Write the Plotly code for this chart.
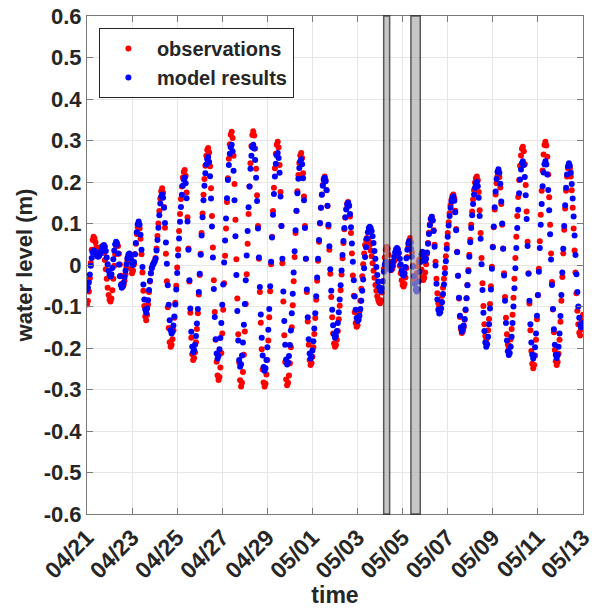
import pandas as pd
import plotly.graph_objects as go

# ---- data (hourly water level, m) ----
start_time = "2019-04-21 00:00"
end_time = "2019-05-13 00:00"

observations = [
    -0.095, -0.087, -0.064, -0.032, 0.005, 0.037, 0.060, 0.068, 0.064, 0.055,
    0.043, 0.034, 0.030, 0.032, 0.038, 0.043, 0.045, 0.041, 0.029, 0.012,
    -0.010, -0.033, -0.055, -0.072, -0.084, -0.088, -0.081, -0.061, -0.033, -0.002,
    0.026, 0.046, 0.053, 0.046, 0.027, 0.001, -0.026, -0.045, -0.052, -0.048,
    -0.038, -0.022, -0.006, 0.010, 0.020, 0.024, 0.013, -0.009, -0.020, -0.014,
    0.002, 0.026, 0.051, 0.075, 0.091, 0.097, 0.088, 0.063, 0.026, -0.018,
    -0.062, -0.099, -0.124, -0.133, -0.120, -0.095, -0.065, -0.040, -0.020, -0.006,
    0.000, 0.005, 0.010, 0.017, 0.040, 0.070, 0.100, 0.130, 0.160, 0.178,
    0.185, 0.174, 0.140, 0.090, 0.027, -0.039, -0.102, -0.152, -0.186, -0.197,
    -0.192, -0.179, -0.157, -0.127, -0.091, -0.050, -0.006, 0.038, 0.082, 0.123,
    0.159, 0.189, 0.211, 0.224, 0.229, 0.215, 0.175, 0.115, 0.040, -0.040,
    -0.115, -0.175, -0.215, -0.229, -0.224, -0.210, -0.186, -0.154, -0.116, -0.071,
    -0.024, 0.027, 0.077, 0.124, 0.169, 0.207, 0.239, 0.263, 0.277, 0.282,
    0.271, 0.238, 0.185, 0.118, 0.042, -0.037, -0.113, -0.180, -0.233, -0.266,
    -0.277, -0.270, -0.247, -0.212, -0.165, -0.108, -0.044, 0.022, 0.088, 0.152,
    0.209, 0.256, 0.291, 0.314, 0.321, 0.306, 0.263, 0.195, 0.109, 0.014,
    -0.081, -0.167, -0.235, -0.278, -0.293, -0.284, -0.258, -0.216, -0.160, -0.094,
    -0.022, 0.051, 0.123, 0.189, 0.245, 0.287, 0.313, 0.322, 0.312, 0.281,
    0.232, 0.168, 0.094, 0.015, -0.065, -0.139, -0.203, -0.252, -0.283, -0.293,
    -0.286, -0.264, -0.229, -0.182, -0.126, -0.063, 0.002, 0.068, 0.130, 0.186,
    0.233, 0.268, 0.290, 0.297, 0.283, 0.241, 0.176, 0.094, 0.004, -0.088,
    -0.169, -0.234, -0.276, -0.290, -0.284, -0.266, -0.237, -0.198, -0.150, -0.097,
    -0.039, 0.019, 0.077, 0.130, 0.178, 0.217, 0.246, 0.264, 0.270, 0.258,
    0.221, 0.165, 0.094, 0.015, -0.065, -0.136, -0.192, -0.229, -0.241, -0.236,
    -0.221, -0.198, -0.166, -0.128, -0.084, -0.038, 0.010, 0.056, 0.100, 0.138,
    0.170, 0.193, 0.208, 0.213, 0.205, 0.181, 0.142, 0.093, 0.037, -0.021,
    -0.077, -0.126, -0.165, -0.189, -0.197, -0.193, -0.180, -0.159, -0.131, -0.098,
    -0.061, -0.023, 0.016, 0.053, 0.086, 0.114, 0.135, 0.148, 0.152, 0.143,
    0.117, 0.077, 0.028, -0.025, -0.074, -0.114, -0.140, -0.149, -0.145, -0.132,
    -0.112, -0.086, -0.057, -0.027, 0.002, 0.028, 0.048, 0.061, 0.065, 0.063,
    0.057, 0.048, 0.035, 0.021, 0.004, -0.014, -0.031, -0.048, -0.062, -0.075,
    -0.084, -0.090, -0.092, -0.085, -0.066, -0.039, -0.009, 0.018, 0.037, 0.044,
    0.039, 0.025, 0.007, -0.007, -0.012, -0.009, -0.002, 0.009, 0.020, 0.027,
    0.030, 0.026, 0.015, -0.002, -0.020, -0.037, -0.048, -0.052, -0.046, -0.030,
    -0.007, 0.019, 0.043, 0.059, 0.065, 0.055, 0.030, -0.001, -0.026, -0.036,
    -0.031, -0.019, -0.003, 0.009, 0.014, 0.007, -0.011, -0.029, -0.036, -0.031,
    -0.018, 0.002, 0.027, 0.053, 0.078, 0.098, 0.111, 0.116, 0.108, 0.084,
    0.049, 0.008, -0.033, -0.068, -0.092, -0.100, -0.097, -0.088, -0.074, -0.055,
    -0.033, -0.007, 0.021, 0.049, 0.077, 0.103, 0.125, 0.144, 0.158, 0.167,
    0.170, 0.160, 0.131, 0.087, 0.032, -0.026, -0.081, -0.125, -0.154, -0.164,
    -0.160, -0.150, -0.132, -0.109, -0.080, -0.048, -0.012, 0.025, 0.061, 0.097,
    0.129, 0.158, 0.181, 0.199, 0.209, 0.213, 0.204, 0.176, 0.132, 0.077,
    0.017, -0.044, -0.099, -0.143, -0.171, -0.180, -0.174, -0.157, -0.130, -0.094,
    -0.051, -0.004, 0.044, 0.091, 0.134, 0.170, 0.197, 0.214, 0.220, 0.212,
    0.187, 0.147, 0.097, 0.040, -0.020, -0.077, -0.127, -0.167, -0.192, -0.200,
    -0.195, -0.179, -0.154, -0.120, -0.079, -0.033, 0.017, 0.068, 0.118, 0.164,
    0.205, 0.239, 0.264, 0.280, 0.285, 0.274, 0.243, 0.193, 0.129, 0.056,
    -0.020, -0.093, -0.157, -0.207, -0.238, -0.249, -0.241, -0.218, -0.180, -0.131,
    -0.073, -0.009, 0.057, 0.121, 0.179, 0.228, 0.266, 0.289, 0.297, 0.288,
    0.261, 0.218, 0.163, 0.097, 0.028, -0.041, -0.107, -0.162, -0.205, -0.232,
    -0.241, -0.234, -0.214, -0.180, -0.137, -0.086, -0.029, 0.028, 0.085, 0.136,
    0.179, 0.213, 0.233, 0.240, 0.233, 0.213, 0.180, 0.138, 0.088, 0.035,
    -0.018, -0.068, -0.110, -0.143, -0.163, -0.170, -0.155, -0.135, -0.120,
]

model_results = [
    -0.060, -0.055, -0.042, -0.023, -0.002, 0.017, 0.030, 0.035, 0.034, 0.030,
    0.025, 0.021, 0.020, 0.022, 0.027, 0.034, 0.041, 0.046, 0.048, 0.044,
    0.034, 0.018, 0.002, -0.014, -0.024, -0.028, -0.022, -0.007, 0.014, 0.035,
    0.050, 0.056, 0.049, 0.028, 0.001, -0.027, -0.048, -0.055, -0.052, -0.043,
    -0.029, -0.014, 0.002, 0.016, 0.025, 0.028, 0.024, 0.014, 0.004, 0.000,
    0.007, 0.026, 0.053, 0.079, 0.098, 0.105, 0.097, 0.073, 0.037, -0.005,
    -0.047, -0.083, -0.107, -0.115, -0.105, -0.085, -0.060, -0.038, -0.020, -0.008,
    0.000, 0.004, 0.008, 0.015, 0.035, 0.060, 0.090, 0.120, 0.148, 0.165,
    0.170, 0.162, 0.138, 0.101, 0.054, 0.003, -0.049, -0.096, -0.133, -0.157,
    -0.165, -0.161, -0.146, -0.124, -0.095, -0.059, -0.019, 0.023, 0.064, 0.104,
    0.140, 0.169, 0.191, 0.206, 0.210, 0.197, 0.161, 0.105, 0.037, -0.037,
    -0.105, -0.161, -0.197, -0.210, -0.205, -0.192, -0.171, -0.141, -0.106, -0.065,
    -0.021, 0.025, 0.071, 0.115, 0.156, 0.191, 0.221, 0.242, 0.255, 0.260,
    0.248, 0.214, 0.160, 0.093, 0.018, -0.058, -0.125, -0.179, -0.213, -0.225,
    -0.219, -0.203, -0.176, -0.140, -0.096, -0.047, 0.006, 0.059, 0.112, 0.161,
    0.205, 0.241, 0.268, 0.284, 0.290, 0.274, 0.227, 0.156, 0.069, -0.024,
    -0.111, -0.182, -0.229, -0.245, -0.239, -0.218, -0.187, -0.144, -0.094, -0.037,
    0.023, 0.082, 0.139, 0.189, 0.232, 0.263, 0.284, 0.290, 0.281, 0.253,
    0.210, 0.154, 0.088, 0.018, -0.053, -0.119, -0.175, -0.218, -0.246, -0.255,
    -0.249, -0.229, -0.198, -0.156, -0.106, -0.051, 0.008, 0.066, 0.121, 0.171,
    0.213, 0.244, 0.264, 0.270, 0.258, 0.222, 0.165, 0.094, 0.015, -0.064,
    -0.135, -0.192, -0.228, -0.240, -0.235, -0.219, -0.193, -0.158, -0.116, -0.069,
    -0.018, 0.033, 0.084, 0.131, 0.173, 0.208, 0.234, 0.250, 0.255, 0.243,
    0.209, 0.156, 0.089, 0.015, -0.059, -0.126, -0.179, -0.213, -0.225, -0.220,
    -0.206, -0.184, -0.153, -0.116, -0.075, -0.030, 0.015, 0.060, 0.101, 0.138,
    0.169, 0.191, 0.205, 0.210, 0.202, 0.180, 0.143, 0.097, 0.045, -0.010,
    -0.062, -0.108, -0.145, -0.167, -0.175, -0.171, -0.159, -0.140, -0.114, -0.083,
    -0.049, -0.013, 0.024, 0.058, 0.089, 0.115, 0.134, 0.146, 0.150, 0.143,
    0.123, 0.091, 0.052, 0.008, -0.037, -0.076, -0.108, -0.128, -0.135, -0.132,
    -0.122, -0.106, -0.086, -0.062, -0.035, -0.008, 0.019, 0.043, 0.063, 0.079,
    0.089, 0.092, 0.089, 0.082, 0.069, 0.053, 0.034, 0.015, -0.005, -0.024,
    -0.040, -0.053, -0.060, -0.063, -0.056, -0.039, -0.016, 0.001, 0.008, 0.006,
    0.001, -0.005, -0.010, -0.012, -0.009, -0.002, 0.009, 0.020, 0.031, 0.038,
    0.041, 0.038, 0.029, 0.015, 0.001, -0.013, -0.022, -0.025, -0.020, -0.005,
    0.016, 0.037, 0.052, 0.057, 0.052, 0.039, 0.020, -0.004, -0.027, -0.046,
    -0.059, -0.064, -0.058, -0.040, -0.016, 0.008, 0.026, 0.032, 0.027, 0.016,
    0.010, 0.015, 0.030, 0.051, 0.075, 0.096, 0.111, 0.116, 0.107, 0.082,
    0.044, -0.001, -0.045, -0.083, -0.108, -0.117, -0.114, -0.105, -0.090, -0.070,
    -0.047, -0.020, 0.009, 0.039, 0.068, 0.095, 0.118, 0.138, 0.153, 0.162,
    0.165, 0.155, 0.127, 0.084, 0.031, -0.026, -0.079, -0.122, -0.150, -0.160,
    -0.156, -0.146, -0.130, -0.107, -0.080, -0.049, -0.015, 0.020, 0.055, 0.089,
    0.120, 0.147, 0.170, 0.186, 0.196, 0.200, 0.190, 0.162, 0.118, 0.063,
    0.002, -0.060, -0.115, -0.159, -0.187, -0.197, -0.191, -0.173, -0.143, -0.105,
    -0.059, -0.009, 0.043, 0.093, 0.139, 0.177, 0.207, 0.225, 0.231, 0.222,
    0.196, 0.153, 0.100, 0.039, -0.025, -0.086, -0.140, -0.182, -0.208, -0.217,
    -0.212, -0.197, -0.173, -0.140, -0.100, -0.056, -0.008, 0.041, 0.089, 0.133,
    0.173, 0.206, 0.230, 0.245, 0.250, 0.241, 0.212, 0.168, 0.111, 0.046,
    -0.021, -0.086, -0.143, -0.187, -0.216, -0.225, -0.218, -0.198, -0.165, -0.122,
    -0.072, -0.016, 0.041, 0.097, 0.147, 0.190, 0.223, 0.243, 0.250, 0.242,
    0.218, 0.181, 0.132, 0.074, 0.013, -0.048, -0.106, -0.155, -0.192, -0.216,
    -0.224, -0.217, -0.197, -0.165, -0.123, -0.072, -0.018, 0.039, 0.094, 0.144,
    0.186, 0.218, 0.238, 0.245, 0.239, 0.222, 0.195, 0.160, 0.117, 0.071,
    0.024, -0.022, -0.065, -0.100, -0.127, -0.144, -0.150, -0.145, -0.140,
]

# shaded periods (start, end)
band_starts = ["2019-05-04 03:50", "2019-05-05 08:50"]
band_ends = ["2019-05-04 10:10", "2019-05-05 18:45"]

y_ticks = [-0.6, -0.5, -0.4, -0.3, -0.2, -0.1, 0, 0.1, 0.2, 0.3, 0.4, 0.5, 0.6]
y_tick_labels = ["-0.6", "-0.5", "-0.4", "-0.3", "-0.2", "-0.1", "0",
                 "0.1", "0.2", "0.3", "0.4", "0.5", "0.6"]

times = pd.date_range(start_time, periods=len(observations), freq="h")

TXT = "#262626"
AX = "#7a7a7a"
FONT = "Liberation Sans, Arial, Helvetica, sans-serif"

fig = go.Figure()
fig.add_trace(go.Scatter(x=times, y=observations, mode="markers", name="observations",
                         marker=dict(color="#ff0000", size=6)))
fig.add_trace(go.Scatter(x=times, y=model_results, mode="markers", name="model results",
                         marker=dict(color="#0000ff", size=6)))

for s, e in zip(band_starts, band_ends):
    fig.add_shape(type="rect", xref="x", yref="paper", x0=s, x1=e, y0=0, y1=1,
                  fillcolor="#a8a8a8", opacity=0.65, layer="above",
                  line=dict(color="#000000", width=1.5))

fig.update_layout(
    width=597, height=608,
    margin=dict(l=87, r=14, t=16, b=94),
    plot_bgcolor="white", paper_bgcolor="white",
    font=dict(family=FONT, size=22, color=TXT),
    legend=dict(x=0.024, y=0.976, xanchor="left", yanchor="top",
                bgcolor="white", bordercolor=TXT, borderwidth=1,
                font=dict(family=FONT, size=20, color=TXT, weight="bold"),
                tracegroupgap=0, itemwidth=47),
)
fig.update_xaxes(
    type="date", range=[start_time, end_time], automargin=False,
    tick0=start_time, dtick=2 * 86400000, tickformat="%m/%d", tickangle=-45,
    tickfont=dict(family=FONT, size=23, color=TXT, weight="bold"),
    title=dict(text="time", font=dict(family=FONT, size=23, color=TXT, weight="bold"), standoff=14),
    showgrid=True, gridcolor="#e6e6e6", gridwidth=1,
    showline=True, linecolor=AX, linewidth=1, mirror="ticks",
    ticks="inside", ticklen=6, tickcolor=AX, zeroline=False,
)
fig.update_yaxes(
    range=[-0.6, 0.6], tickvals=y_ticks, ticktext=y_tick_labels, automargin=False,
    tickfont=dict(family=FONT, size=22, color=TXT, weight="bold"),
    title=dict(text="water level (m)", font=dict(family=FONT, size=22, color=TXT, weight="bold"), standoff=4),
    showgrid=True, gridcolor="#e6e6e6", gridwidth=1,
    showline=True, linecolor=AX, linewidth=1, mirror="ticks",
    ticks="inside", ticklen=6, tickcolor=AX, zeroline=False,
)

fig.write_html("out.html")
